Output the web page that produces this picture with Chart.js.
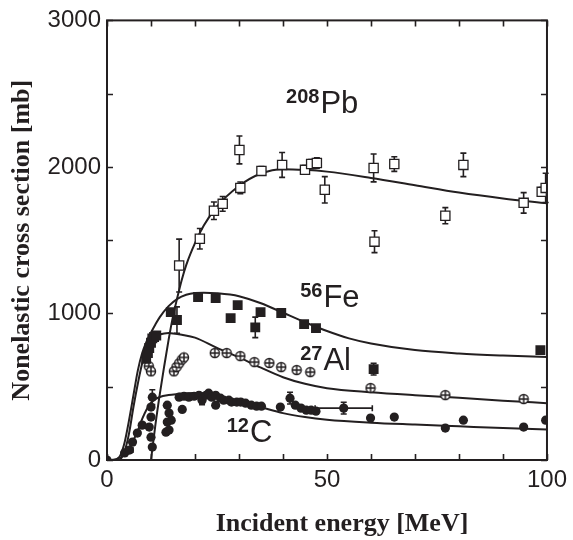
<!DOCTYPE html>
<html>
<head>
<meta charset="utf-8">
<script src="https://cdn.jsdelivr.net/npm/chart.js@4.4.1/dist/chart.umd.min.js"></script>
<style>
  html, body { margin: 0; padding: 0; background: #fff; }
</style>
</head>
<body>
<canvas id="xsChart" width="573" height="540"></canvas>
<script>
const ink = "#231f20";

// measured data: incident energy [MeV], nonelastic cross section [mb], error [mb]
const pbE = [16.4, 21.1, 24.3, 26.3, 30.1, 30.3, 35.1, 39.8, 45.0, 46.4, 47.7, 49.5, 60.6, 60.8, 65.3, 76.9, 81.0, 94.7, 98.8, 99.7];
const pbSigma = [1327, 1510, 1701, 1748, 2116, 1857, 1973, 2014, 1980, 2020, 2027, 1844, 1993, 1490, 2020, 1667, 2014, 1755, 1830, 1857];
const pbErr = [180, 70, 60, 50, 95, 40, 30, 85, 30, 30, 35, 90, 95, 75, 50, 55, 80, 70, 30, 100];

const feE = [8.9, 9.3, 9.6, 10.0, 10.3, 10.7, 11.2, 14.5, 15.9, 20.7, 24.7, 28.1, 29.7, 33.7, 34.9, 39.6, 44.8, 47.5, 60.6, 98.5];
const feSigma = [690, 730, 764, 800, 830, 839, 850, 1009, 955, 1112, 1105, 968, 1057, 905, 1009, 1003, 927, 900, 620, 750];
const feErr = [0, 0, 0, 0, 0, 0, 0, 0, 90, 0, 0, 0, 0, 70, 0, 0, 0, 0, 40, 0];

const alE = [9.5, 10.0, 15.2, 15.8, 16.4, 17.0, 17.5, 24.5, 27.2, 30.3, 33.5, 36.9, 39.6, 43.1, 46.2, 59.9, 76.9, 94.7];
const alSigma = [640, 605, 605, 635, 660, 685, 700, 730, 730, 709, 668, 662, 634, 614, 600, 491, 443, 416];

const cE = [0, 4.0, 5.1, 5.8, 6.9, 8.0, 9.6, 10.0, 10.3, 10.0, 10.0, 10.3, 13.4, 13.7, 14.1, 13.7, 14.1, 14.6, 16.4, 17.1, 17.5, 18.6, 19.8, 20.9, 21.6, 22.5, 23.1, 23.8, 24.7, 24.7, 25.8, 26.5, 27.7, 28.3, 29.5, 30.4, 31.5, 32.8, 34.0, 35.1, 39.4, 41.6, 42.8, 44.1, 45.3, 46.4, 47.5, 53.8, 59.9, 65.3, 76.9, 81.0, 94.7, 99.7];
const cSigma = [0, 48, 68, 122, 184, 238, 225, 156, 88, 293, 361, 429, 190, 374, 204, 259, 320, 272, 429, 345, 435, 429, 435, 442, 408, 442, 456, 429, 442, 374, 422, 408, 408, 395, 395, 395, 388, 374, 367, 367, 361, 422, 374, 354, 340, 340, 333, 354, 286, 293, 218, 272, 225, 272];
const cErr = [0, 0, 0, 0, 0, 0, 0, 0, 0, 0, 0, 50, 0, 0, 0, 0, 0, 0, 0, 0, 0, 0, 0, 0, 30, 0, 0, 0, 0, 0, 0, 0, 0, 0, 0, 0, 0, 0, 0, 0, 0, 40, 0, 0, 0, 0, 0, 40, 0, 0, 0, 0, 0, 0];
const cEErr = [0, 0, 0.8, 0, 0, 0, 0, 0, 0, 0, 0, 0, 0, 0, 0, 0, 0, 0, 0, 0, 0, 0, 0, 0, 0, 0, 0, 0, 0, 0, 0, 0, 0, 0, 0, 0, 0, 0, 0, 0, 0, 0, 0, 0, 0, 0, 0, 6.5, 0, 0, 0, 0, 0, 0];

// calculated curves
const pbCurveE = [10, 11, 12, 13, 14, 15, 16, 17, 18, 20, 22, 25, 30, 35, 40, 45, 50, 60, 70, 80, 90, 100];
const pbCurveSigma = [0, 240, 450, 640, 820, 980, 1110, 1230, 1330, 1480, 1600, 1730, 1870, 1955, 1985, 1980, 1968, 1925, 1875, 1825, 1785, 1752];
const feCurveE = [2, 3, 4, 5, 6, 7, 8, 9, 10, 11, 12, 14, 16, 18, 20, 22, 25, 30, 35, 40, 45, 50, 55, 60, 70, 80, 90, 100];
const feCurveSigma = [0, 30, 120, 270, 440, 610, 730, 810, 870, 925, 975, 1050, 1100, 1128, 1140, 1142, 1138, 1118, 1070, 1005, 940, 880, 830, 795, 750, 727, 713, 703];
const alCurveE = [3, 4, 5, 6, 7, 8, 9, 10, 11, 12, 13, 14, 15, 17, 20, 25, 30, 35, 40, 45, 50, 60, 70, 80, 90, 100];
const alCurveSigma = [0, 60, 180, 360, 520, 660, 750, 805, 835, 855, 864, 866, 864, 855, 835, 765, 700, 630, 565, 520, 490, 462, 442, 425, 405, 388];
const cCurveE = [0, 2, 4, 5, 6, 7, 8, 9, 10, 11, 12, 14, 16, 18, 20, 22, 25, 30, 35, 40, 45, 50, 60, 70, 80, 90, 100];
const cCurveSigma = [0, 5, 35, 75, 135, 200, 280, 345, 390, 415, 430, 443, 450, 455, 457, 455, 440, 400, 360, 320, 293, 275, 255, 242, 230, 218, 208];

// nucleus labels: mass number, element, anchor energy, anchor cross section
const nuclei = [
  ["208", "Pb", 40.7, 2367],
  ["56", "Fe", 43.9, 1041],
  ["27", "Al", 43.9, 612],
  ["12", "C", 27.2, 122],
];

const pts = (xs, ys) => xs.map((x, i) => ({ x: x, y: ys[i] }));

// open circle with a cross, used for Al
function crossCircle() {
  const c = document.createElement("canvas");
  c.width = 12;
  c.height = 12;
  const g = c.getContext("2d");
  g.fillStyle = "#fff";
  g.strokeStyle = ink;
  g.lineWidth = 1.5;
  g.beginPath();
  g.arc(6, 6, 4.5, 0, Math.PI * 2);
  g.fill();
  g.stroke();
  g.beginPath();
  g.moveTo(6, 1.5);
  g.lineTo(6, 10.5);
  g.moveTo(1.5, 6);
  g.lineTo(10.5, 6);
  g.stroke();
  return c;
}

function curve(xs, ys) {
  return {
    data: pts(xs, ys),
    showLine: true,
    borderColor: ink,
    borderWidth: 2,
    pointRadius: 0,
    cubicInterpolationMode: "monotone",
    order: 2,
  };
}

const errorBars = {
  id: "errorBars",
  beforeDatasetsDraw(chart) {
    const ctx = chart.ctx;
    const xs = chart.scales.x;
    const ys = chart.scales.y;
    ctx.save();
    ctx.strokeStyle = ink;
    ctx.lineWidth = 1.6;
    chart.data.datasets.forEach((ds) => {
      if (!ds.yErr && !ds.xErr) return;
      ds.data.forEach((p, i) => {
        const px = xs.getPixelForValue(p.x);
        const py = ys.getPixelForValue(p.y);
        const ey = ds.yErr ? ds.yErr[i] : 0;
        const ex = ds.xErr ? ds.xErr[i] : 0;
        ctx.beginPath();
        if (ey) {
          const t = ys.getPixelForValue(p.y + ey);
          const b = ys.getPixelForValue(p.y - ey);
          ctx.moveTo(px, t); ctx.lineTo(px, b);
          ctx.moveTo(px - 3, t); ctx.lineTo(px + 3, t);
          ctx.moveTo(px - 3, b); ctx.lineTo(px + 3, b);
        }
        if (ex) {
          const l = xs.getPixelForValue(p.x - ex);
          const r = xs.getPixelForValue(p.x + ex);
          ctx.moveTo(l, py); ctx.lineTo(r, py);
          ctx.moveTo(l, py - 3); ctx.lineTo(l, py + 3);
          ctx.moveTo(r, py - 3); ctx.lineTo(r, py + 3);
        }
        ctx.stroke();
      });
    });
    ctx.restore();
  },
};

const frame = {
  id: "frame",
  afterDraw(chart) {
    const ctx = chart.ctx;
    const a = chart.chartArea;
    const xs = chart.scales.x;
    const ys = chart.scales.y;
    ctx.save();
    ctx.strokeStyle = ink;
    ctx.lineWidth = 1.6;
    ctx.beginPath();
    xs.ticks.forEach((t) => {
      const px = Math.round(xs.getPixelForValue(t.value)) + 0.5;
      ctx.moveTo(px, a.bottom); ctx.lineTo(px, a.bottom - 6);
      ctx.moveTo(px, a.top); ctx.lineTo(px, a.top + 6);
    });
    ys.ticks.forEach((t) => {
      const py = Math.round(ys.getPixelForValue(t.value)) + 0.5;
      ctx.moveTo(a.left, py); ctx.lineTo(a.left + 6, py);
      ctx.moveTo(a.right, py); ctx.lineTo(a.right - 6, py);
    });
    ctx.stroke();
    ctx.lineWidth = 2;
    ctx.strokeRect(a.left, a.top, a.right - a.left, a.bottom - a.top);

    // nucleus labels
    ctx.fillStyle = ink;
    ctx.textBaseline = "alphabetic";
    ctx.textAlign = "left";
    nuclei.forEach(([mass, el, e, s]) => {
      const x = xs.getPixelForValue(e);
      const y = ys.getPixelForValue(s);
      ctx.font = "bold 20px 'Liberation Sans', Arial, sans-serif";
      ctx.fillText(mass, x, y - 10);
      const w = ctx.measureText(mass).width;
      ctx.font = "31px 'Liberation Sans', Arial, sans-serif";
      ctx.fillText(el, x + w + 1, y);
    });

    // axis titles
    ctx.font = "bold 26px 'Liberation Serif', 'Times New Roman', serif";
    ctx.textAlign = "center";
    ctx.textBaseline = "middle";
    ctx.fillText("Incident energy [MeV]", (a.left + a.right) / 2 + 15, 524);
    ctx.translate(22, (a.top + a.bottom) / 2);
    ctx.rotate(-Math.PI / 2);
    ctx.fillText("Nonelastic cross section [mb]", 0, 0);
    ctx.restore();
  },
};

const tickFont = { family: "'Liberation Sans', Arial, sans-serif", size: 24 };

new Chart(document.getElementById("xsChart").getContext("2d"), {
  type: "scatter",
  data: {
    datasets: [
      curve(pbCurveE, pbCurveSigma),
      curve(feCurveE, feCurveSigma),
      curve(alCurveE, alCurveSigma),
      curve(cCurveE, cCurveSigma),
      {
        data: pts(pbE, pbSigma),
        yErr: pbErr,
        pointStyle: "rect",
        pointRadius: 6.5,
        backgroundColor: "#fff",
        borderColor: ink,
        borderWidth: 1.3,
        order: 1,
      },
      {
        data: pts(feE, feSigma),
        yErr: feErr,
        pointStyle: "rect",
        pointRadius: 7,
        backgroundColor: ink,
        borderColor: ink,
        borderWidth: 0,
        order: 1,
      },
      {
        data: pts(alE, alSigma),
        pointStyle: crossCircle(),
        order: 1,
      },
      {
        data: pts(cE, cSigma),
        yErr: cErr,
        xErr: cEErr,
        pointStyle: "circle",
        pointRadius: 4.6,
        backgroundColor: ink,
        borderColor: ink,
        borderWidth: 0,
        order: 1,
      },
    ],
  },
  options: {
    responsive: false,
    animation: false,
    devicePixelRatio: 1,
    layout: { padding: { left: 0, right: 23, top: 19, bottom: 0 } },
    plugins: {
      legend: { display: false },
      tooltip: { enabled: false },
    },
    scales: {
      x: {
        type: "linear",
        min: 0,
        max: 100,
        grid: { display: false, drawTicks: false },
        border: { display: false },
        ticks: {
          stepSize: 10,
          autoSkip: false,
          maxRotation: 0,
          padding: 6,
          color: ink,
          font: tickFont,
          callback: (v) => (v % 50 === 0 ? v : ""),
        },
        afterFit: (s) => { s.height = 80; },
      },
      y: {
        min: 0,
        max: 3000,
        grid: { display: false, drawTicks: false },
        border: { display: false },
        ticks: {
          stepSize: 500,
          autoSkip: false,
          padding: 6,
          color: ink,
          font: tickFont,
          callback: (v) => (v % 1000 === 0 ? v : ""),
        },
        afterFit: (s) => { s.width = 107; },
      },
    },
  },
  plugins: [errorBars, frame],
});
</script>
</body>
</html>
